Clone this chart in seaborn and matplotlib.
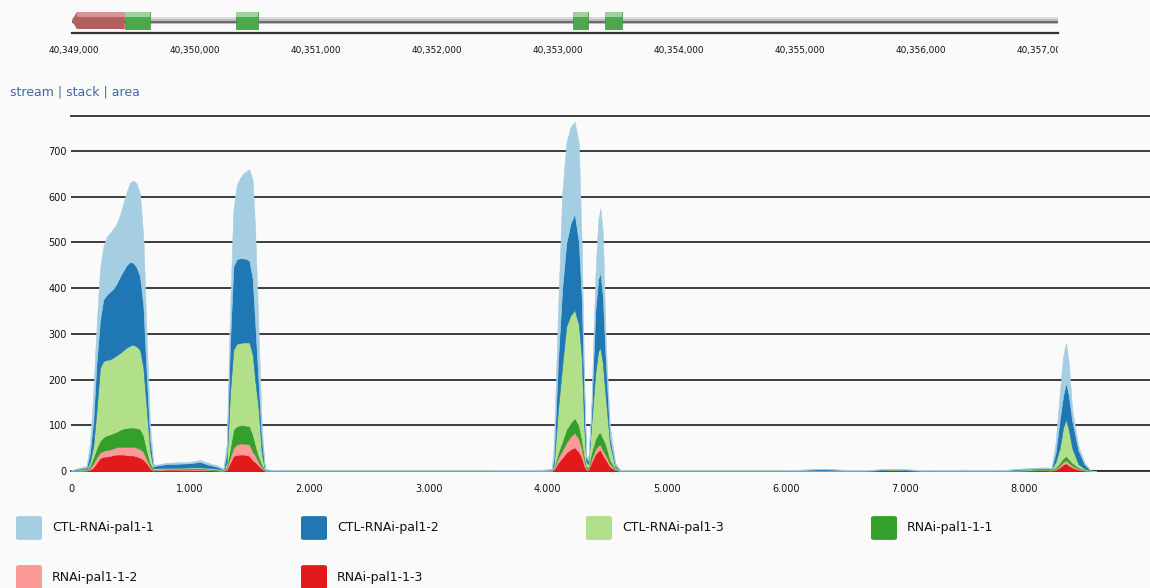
import numpy as np
import seaborn as sns
import matplotlib.pyplot as plt
from matplotlib.patches import FancyBboxPatch, Polygon, Rectangle
from matplotlib.ticker import FuncFormatter
from matplotlib.transforms import Bbox, TransformedBbox

# coverage track, position in bp relative to 40,349,000
positions = [0, 131, 159, 187, 215, 243, 271, 299, 327, 355, 383, 411, 439, 467, 495, 523,
             551, 579, 607, 635, 663, 691, 719, 800, 900, 1000, 1080, 1150, 1230, 1278, 1306,
             1334, 1362, 1390, 1418, 1446, 1474, 1496, 1524, 1544, 1572, 1600, 1627, 1700,
             2500, 3500, 3950, 4034, 4051, 4086, 4121, 4155, 4190, 4225, 4260, 4284, 4305,
             4322, 4340, 4364, 4399, 4423, 4441, 4462, 4486, 4521, 4566, 4608, 5000, 5500,
             6000, 6300, 6600, 6900, 7200, 7500, 7800, 8000, 8150, 8225, 8260, 8295, 8323,
             8347, 8371, 8399, 8451, 8503, 8555, 8600]

ctl_1 = [0.6, 4, 20, 60, 80, 110, 115, 127, 128, 132, 130, 135, 147, 160, 173, 180,
         183, 180, 150, 80, 30, 5, 2, 3, 3, 3, 4, 4, 3, 2, 20,
         72, 123, 162, 175, 185, 193, 199, 216, 204, 116, 28, 2, 0.6,
         0.6, 0.6, 1, 2, 32, 109, 207, 218, 212, 200, 216, 118, 36,
         3, 3, 14, 73, 129, 141, 139, 40, 23, 6, 0.6, 0.6, 0.6,
         0.6, 0.8, 0.6, 0.6, 0.6, 0.8, 0.6, 1.5, 2, 2, 22, 58, 86,
         87, 71, 24, 10, 4, 0.2, 0]
ctl_2 = [0.5, 3, 20, 55, 106, 105, 135, 142, 148, 150, 157, 167, 174, 180, 183, 179,
         173, 160, 135, 75, 25, 4, 6, 8, 9, 9, 12, 7, 4, 1, 22,
         109, 182, 185, 185, 184, 182, 179, 165, 130, 60, 30, 1, 0.5,
         0.5, 0.5, 0.8, 1, 15, 108, 170, 182, 200, 211, 180, 130, 73,
         10, 7, 22, 137, 158, 164, 146, 80, 15, 4, 0.5, 0.5, 0.5,
         0.5, 3, 0.5, 0.5, 0.5, 1.2, 0.5, 1.5, 1, 1, 20, 63, 70,
         80, 75, 60, 30, 9, 0.3, 0]
ctl_3 = [0.3, 2, 8, 25, 84, 159, 166, 165, 164, 165, 167, 168, 171, 176, 179, 181,
         178, 173, 147, 90, 27, 2, 2, 2, 2, 2, 2, 2, 2, 0.5, 8,
         121, 174, 180, 180, 181, 182, 183, 175, 140, 107, 25, 0.5, 0.3,
         0.3, 0.3, 0.5, 1, 7, 95, 165, 225, 235, 236, 220, 180, 63,
         10, 7, 58, 145, 180, 185, 163, 102, 35, 3, 0.3, 0.3, 0.3,
         0.3, 0.3, 0.3, 0.3, 0.3, 0.3, 0.3, 1, 1, 1, 12, 32, 67,
         80, 64, 32, 7, 2, 0.2, 0]
rnai_1 = [0.2, 1, 5, 13, 20, 26, 30, 32, 33, 33, 34, 37, 40, 41, 42, 42,
          43, 44, 36, 19, 8, 2, 1, 1, 1, 2, 2, 2, 1, 0.5, 4,
          20, 40, 40, 40, 40, 40, 40, 38, 25, 13, 7, 0.5, 0.2,
          0.2, 0.2, 0.2, 0.5, 3, 11, 20, 29, 30, 32, 30, 20, 10,
          4, 3, 15, 22, 26, 26, 27, 23, 9, 2, 0.2, 0.2, 0.2,
          0.2, 0.2, 0.2, 0.3, 0.2, 0.3, 0.2, 0.5, 1, 1, 3, 6, 8,
          9, 8, 6, 3, 1, 0.1, 0]
rnai_2 = [0.2, 1, 4, 9, 12, 12, 13, 14, 14, 15, 16, 17, 17, 18, 19, 19,
          19, 19, 17, 9, 4, 1, 1, 1, 1, 2, 2, 1, 1, 0.5, 3,
          12, 18, 23, 24, 24, 24, 25, 18, 15, 8, 3, 0.5, 0.2,
          0.2, 0.2, 0.2, 0.2, 2, 11, 16, 22, 28, 32, 28, 20, 13,
          3, 2, 7, 11, 12, 12, 10, 10, 6, 1, 0.2, 0.2, 0.2,
          0.2, 0.2, 0.2, 0.5, 0.2, 0.2, 0.2, 0.5, 1, 1, 2, 4, 6,
          7, 6, 4, 2, 1, 0.1, 0]
rnai_3 = [0.2, 1, 3, 8, 18, 28, 31, 32, 33, 35, 36, 36, 36, 35, 34, 34,
          32, 29, 25, 17, 6, 1, 2, 3, 3, 2, 2, 2, 1, 0.5, 3,
          18, 33, 35, 36, 36, 35, 33, 24, 20, 12, 5, 0.5, 0.2,
          0.2, 0.2, 0.2, 0.3, 3, 18, 29, 40, 47, 52, 42, 30, 12,
          3, 3, 18, 37, 44, 46, 35, 25, 10, 2, 0.2, 0.2, 0.2,
          0.2, 0.2, 0.2, 2.5, 0.2, 0.2, 0.2, 1, 2, 1, 3, 8, 14,
          17, 12, 8, 3, 1, 0.1, 0]

series_names = ['CTL-RNAi-pal1-1', 'CTL-RNAi-pal1-2', 'CTL-RNAi-pal1-3',
                'RNAi-pal1-1-1', 'RNAi-pal1-1-2', 'RNAi-pal1-1-3']
series_values = [ctl_1, ctl_2, ctl_3, rnai_1, rnai_2, rnai_3]
x_ticks = [0, 1000, 2000, 3000, 4000, 5000, 6000, 7000, 8000]
y_ticks = [0, 100, 200, 300, 400, 500, 600, 700]

# gene model (genomic coordinates)
gene_span = [40348985, 40357130]
utr_span = [40348985, 40349421]
exon_starts = [40349421, 40350339, 40353124, 40353388]
exon_ends = [40349628, 40350521, 40353248, 40353529]
genome_ticks = list(range(40349000, 40358000, 1000))

sns.set_theme(style='white')
plt.rcParams['font.family'] = ['DejaVu Sans']
colors = sns.color_palette('Paired', 6)
bg = '#fafafa'

W, H = 1150, 588
fig = plt.figure(figsize=(W / 100, H / 100), dpi=100, facecolor=bg)


def px_rect(left, top, right, bottom):
    return [left / W, 1 - bottom / H, (right - left) / W, (bottom - top) / H]


# ---- gene track ----
tax = fig.add_axes(px_rect(72, 8, 1058, 33))
tax.set_facecolor(bg)
tax.set_xlim(gene_span[0], gene_span[1])
tax.set_ylim(0, 25)
tax.hlines(13, gene_span[0], gene_span[1], color='#bcbcbc', lw=5, zorder=1)
tax.hlines(15, gene_span[0], gene_span[1], color='#e2e2e2', lw=1.2, zorder=1)
tax.hlines(10.8, gene_span[0], gene_span[1], color='#555555', lw=1.1, zorder=2)
tip = 40
tax.add_patch(Polygon([(utr_span[0], 12.5), (utr_span[0] + tip, 21), (utr_span[1], 21),
                       (utr_span[1], 4), (utr_span[0] + tip, 4)],
                      closed=True, fc='#b35f5f', ec='none', zorder=3))
tax.add_patch(Rectangle((utr_span[0] + tip, 16), utr_span[1] - utr_span[0] - tip, 5,
                        fc='#d49494', ec='none', zorder=4))
for s, e in zip(exon_starts, exon_ends):
    tax.add_patch(Rectangle((s, 4), e - s, 17, fc='#4ea84e', ec='#3d8f3d', lw=0.5, zorder=3))
    tax.add_patch(Rectangle((s, 16), e - s, 5, fc='#9ed39e', ec='none', zorder=4))
for side in ['top', 'left', 'right']:
    tax.spines[side].set_visible(False)
tax.spines['bottom'].set_color('#333333')
tax.spines['bottom'].set_linewidth(1.6)
tax.set_yticks([])
tax.set_xticks(genome_ticks)
tax.xaxis.set_major_formatter(FuncFormatter(lambda v, p: f'{int(v):,}'))
tax.tick_params(axis='x', length=0, pad=9, labelsize=6.4, colors='#111111')
clip = TransformedBbox(Bbox.from_extents(0, 0, 1058 / W, 1), fig.transFigure)
fig.canvas.draw()
for lbl in tax.get_xticklabels():
    lbl.set_clip_on(True)
    lbl.set_clip_box(clip)

fig.text(10 / W, 1 - 92 / H, 'stream | stack | area', color='#3e6aa8', fontsize=9,
         va='center', ha='left')

# ---- coverage stack ----
ax = fig.add_axes(px_rect(71, 116, 1150, 471))
ax.set_facecolor(bg)
stack_order = series_values[::-1]
stack_colors = colors[::-1]
ax.stackplot(positions, *stack_order, colors=stack_colors, edgecolor='face',
             linewidth=0.4, zorder=3)
ax.set_xlim(0, 9052)
ax.set_ylim(0, 776)
ax.set_yticks(y_ticks)
ax.set_xticks(x_ticks)
ax.xaxis.set_major_formatter(FuncFormatter(lambda v, p: f'{int(v):,}'.replace(',', '.')))
ax.grid(axis='y', color='#2e2e2e', lw=1.3, zorder=0)
ax.grid(axis='x', visible=False)
ax.set_axisbelow(True)
for side in ['left', 'right']:
    ax.spines[side].set_visible(False)
for side in ['top', 'bottom']:
    ax.spines[side].set_color('#2e2e2e')
    ax.spines[side].set_linewidth(1.3)
ax.tick_params(axis='both', length=0, labelsize=7, colors='#111111')
ax.tick_params(axis='y', pad=3)
ax.tick_params(axis='x', pad=9)

# ---- legend ----
for i, (name, c) in enumerate(zip(series_names, colors)):
    col, row = i % 4, i // 4
    left = 17 + 285 * col
    cy = 528 + 49 * row
    box = FancyBboxPatch(((left + 2) / W, 1 - (cy + 10) / H), 20 / W, 20 / H,
                         boxstyle='round,pad=0.002', transform=fig.transFigure,
                         fc=c, ec=c, lw=1)
    fig.patches.append(box)
    fig.text((left + 35) / W, 1 - cy / H, name, fontsize=9, va='center', ha='left',
             color='#111111')

fig.savefig('out.png', dpi=100, facecolor=bg)
